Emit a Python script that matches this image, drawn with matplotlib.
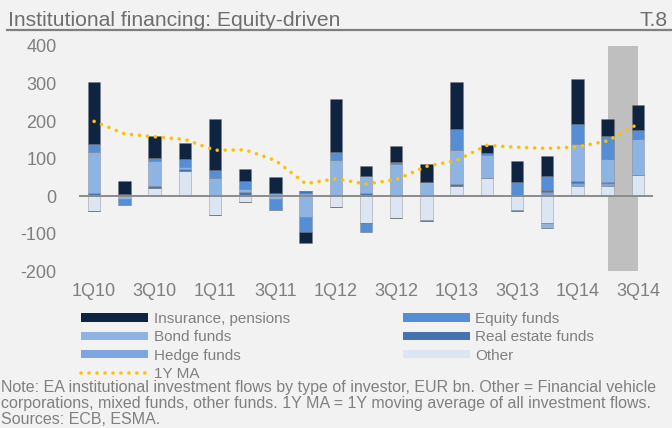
import matplotlib
matplotlib.use("Agg")
import matplotlib.pyplot as plt
from matplotlib.patches import Patch
from matplotlib.lines import Line2D
import numpy as np

plt.rcParams['font.family'] = ['Liberation Sans', 'DejaVu Sans']
plt.rcParams['axes.unicode_minus'] = False

quarters = ['1Q10', '2Q10', '3Q10', '4Q10', '1Q11', '2Q11', '3Q11', '4Q11', '1Q12', '2Q12',
            '3Q12', '4Q12', '1Q13', '2Q13', '3Q13', '4Q13', '1Q14', '2Q14', '3Q14']
insurance = [166, 35, 57, 43, 137, 32, 43, -30, 143, 26, 42, 48, 127, 22, 55, 53, 118, 45, 66]
equity = [21, -18, 8, 20, 21, 20, -29, -40, 21, -25, 7, 0, 54, 4, 34, 37, 54, 62, 24]
bond = [111, -7, 67, 5, 46, 9, -8, -56, 96, 45, 81, 38, 92, 61, 0, -13, 99, 61, 97]
real_estate = [4, 0, 6, 7, 2, 9, 0, 4, 0, 4, 4, 0, 6, 0, 4, 5, 6, 4, 0]
hedge = [3, 5, 0, 0, 0, 2, 8, 9, 0, 4, 0, -3, 0, 0, -3, 11, 6, 6, 0]
other = [-39, 0, 21, 66, -50, -15, 0, 0, -29, -71, -58, -64, 26, 49, -38, -72, 28, 28, 55]
ma_1y = [199, 166, 158, 151, 122, 123, 95, 33, 46, 32, 44, 79, 95, 135, 130, 127, 131, 147, 192]

series = [
    ("Other", other, '#DCE6F2'),
    ("Hedge funds", hedge, '#7EA6DE'),
    ("Real estate funds", real_estate, '#4573B0'),
    ("Bond funds", bond, '#8DB4E2'),
    ("Equity funds", equity, '#558ED5'),
    ("Insurance, pensions", insurance, '#0F2440'),
]

W, H = 672, 428
fig = plt.figure(figsize=(W / 100, H / 100), dpi=100, facecolor='#F2F2F2')
ax = fig.add_axes([79 / W, 1 - 271 / H, (653 - 79) / W, (271 - 46) / H])
ax.set_facecolor('#F2F2F2')

x = np.arange(len(quarters))
ax.axvspan(17, 18, color='#BFBFBF', zorder=0, lw=0)

pos_base = np.zeros(len(x))
neg_base = np.zeros(len(x))
for name, vals, col in series:
    v = np.array(vals, dtype=float)
    pos = np.where(v > 0, v, 0)
    neg = np.where(v < 0, v, 0)
    ax.bar(x, pos, 0.41, bottom=pos_base, color=col, edgecolor=(0.45, 0.45, 0.45, 0.35),
           linewidth=0.7, zorder=2)
    ax.bar(x, neg, 0.41, bottom=neg_base, color=col, edgecolor=(0.45, 0.45, 0.45, 0.35),
           linewidth=0.7, zorder=2)
    pos_base += pos
    neg_base += neg

ax.axhline(0, color='#8C8C8C', lw=1.4, zorder=3)
ma_style = dict(color='#FFC000', lw=2.6, linestyle=(0, (0.01, 2.2)), dash_capstyle='round')
ax.plot(x, ma_1y, zorder=4, **ma_style)

ax.set_xlim(-0.5, 18.5)
ax.set_ylim(-200, 400)
ax.set_yticks(range(-200, 401, 100))
ax.set_xticks(x[::2])
ax.set_xticklabels(quarters[::2])
for s in ax.spines.values():
    s.set_visible(False)
ax.tick_params(axis='both', length=0, labelsize=13, labelcolor='#7F7F7F')
ax.tick_params(axis='x', pad=9)
ax.tick_params(axis='y', pad=16)

# Title
fig.text(8 / W, 1 - 26 / H, "Institutional financing: Equity-driven", fontsize=15.2,
         color='#6E6E6E', ha='left', va='baseline')
fig.text(668 / W, 1 - 26 / H, "T.8", fontsize=15.2, color='#6E6E6E', ha='right', va='baseline')
fig.add_artist(Line2D([7 / W, 1], [1 - 30 / H, 1 - 30 / H], color='#7F7F7F', lw=1.6,
                      transform=fig.transFigure))

# Legend
h = {name: Patch(facecolor=c, edgecolor='none') for name, _, c in series}
ma_handle = Line2D([], [], **ma_style)
handles = [h["Insurance, pensions"], h["Bond funds"], h["Hedge funds"], ma_handle,
           h["Equity funds"], h["Real estate funds"], h["Other"]]
labels = ["Insurance, pensions", "Bond funds", "Hedge funds", "1Y MA",
          "Equity funds", "Real estate funds", "Other"]
leg = fig.legend(handles, labels, ncol=2, loc='upper left',
                 bbox_to_anchor=(81 / W, 1 - 312 / H), frameon=False, fontsize=11,
                 handlelength=4.4, handleheight=0.45, handletextpad=0.35,
                 columnspacing=7.4, labelspacing=0.28, borderpad=0, borderaxespad=0,
                 labelcolor='#7F7F7F')

# Notes
notes = ["Note: EA institutional investment flows by type of investor, EUR bn. Other = Financial vehicle",
         "corporations, mixed funds, other funds. 1Y MA = 1Y moving average of all investment flows.",
         "Sources: ECB, ESMA."]
for i, line in enumerate(notes):
    fig.text(1 / W, 1 - (392 + 16 * i) / H, line, fontsize=11.55, color='#808080',
             ha='left', va='baseline')

fig.savefig("out.png", dpi=100, facecolor=fig.get_facecolor())
